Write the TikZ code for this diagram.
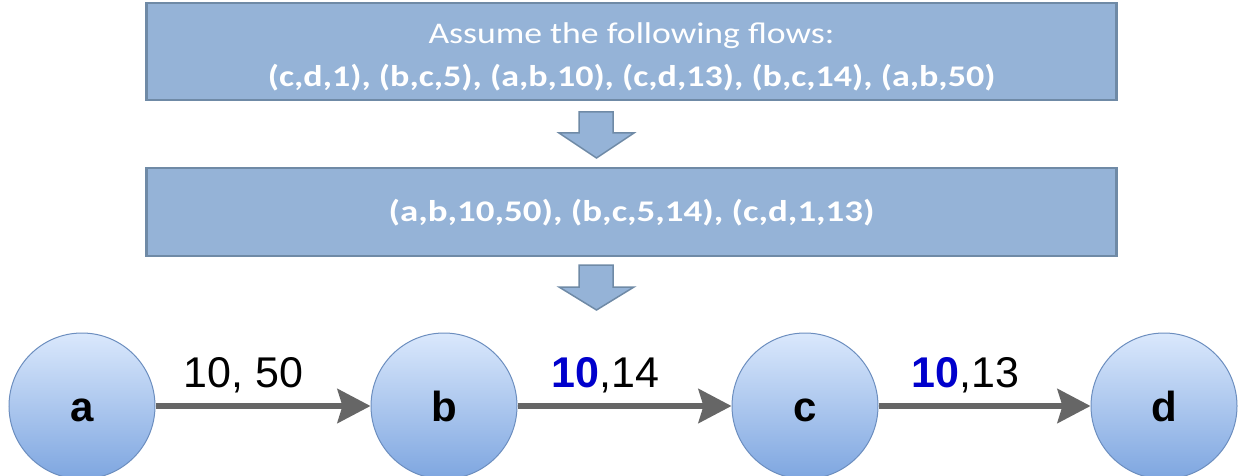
\documentclass[tikz,border=0pt]{standalone}
\usepackage{fontspec}
\setmainfont{Carlito}
\newfontfamily\arialf{Liberation Sans}
\usetikzlibrary{arrows.meta,shapes.geometric}
\definecolor{boxfill}{HTML}{95B3D7}
\definecolor{boxline}{HTML}{6F8AA6}
\definecolor{ctop}{HTML}{DAE8FC}
\definecolor{cbot}{HTML}{7EA6E0}
\definecolor{cline}{HTML}{6C8EBF}
\definecolor{edgegray}{HTML}{666666}
\definecolor{numblue}{HTML}{0000CC}
\tikzset{
  flowbox/.style={draw=boxline, line width=2.5pt, fill=boxfill, text=white, align=center, minimum width=970pt, inner sep=0pt},
  blockarrow/.style={draw=boxline, line width=1.5pt, fill=boxfill, line join=miter},
  vertex/.style={circle, draw=cline, line width=1pt, top color=ctop, bottom color=cbot, minimum size=146pt, inner sep=0pt, text height=31pt, text depth=0pt, font=\arialf\bfseries\fontsize{42}{42}\selectfont},
  flowedge/.style={draw=edgegray, line width=6pt, -{Stealth[length=33pt,width=34pt,inset=5pt]}},
  elabel/.style={font=\arialf\fontsize{43}{43}\selectfont, anchor=base, yshift=19pt, inner sep=0pt}
}
\begin{document}
\begin{tikzpicture}[x=1pt,y=-1pt]
\useasboundingbox (0,0) rectangle (1242,476);
\node[flowbox, minimum height=97pt, font=\fontsize{30}{43}\selectfont] (box1) at (631.5,51.5)
  {\rule{0pt}{31pt}\scalebox{1.19}[1]{Assume the following flows:}\\ \scalebox{1.2}[1]{\textbf{(c,d,1), (b,c,5), (a,b,10), (c,d,13), (b,c,14), (a,b,50)}}};
\node[flowbox, minimum height=88pt, text height=24pt, text depth=6pt, font=\bfseries\fontsize{30}{36}\selectfont] (box2) at (631.5,212)
  {\scalebox{1.23}[1]{(a,b,10,50), (b,c,5,14), (c,d,1,13)}};
\draw[blockarrow] (579,112) -- (613,112) -- (613,133) -- (634,133) -- (596.5,158) -- (559,133) -- (579,133) -- cycle;
\draw[blockarrow] (579,265) -- (613,265) -- (613,287) -- (634,287) -- (596.5,310) -- (559,287) -- (579,287) -- cycle;
\node[vertex] (a) at (82,406) {a};
\node[vertex] (b) at (444,406) {b};
\node[vertex] (c) at (805,406) {c};
\node[vertex] (d) at (1164,406) {d};
\draw[flowedge] (a) -- node[elabel, pos=0.41] {10, 50} (b);
\draw[flowedge] (b) -- node[elabel, pos=0.41] {\textcolor{numblue}{\bfseries 10},14} (c);
\draw[flowedge] (c) -- node[elabel, pos=0.41] {\textcolor{numblue}{\bfseries 10},13} (d);
\end{tikzpicture}
\end{document}
